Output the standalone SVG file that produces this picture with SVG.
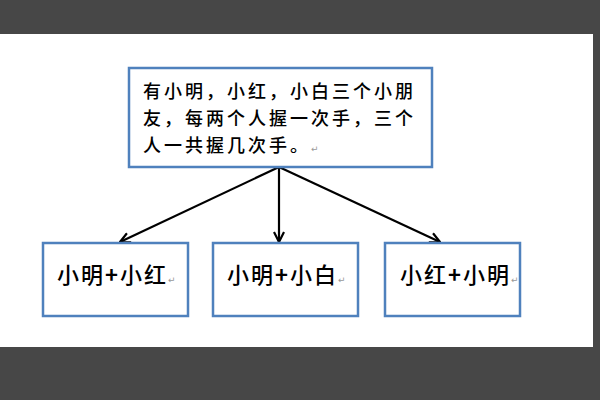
<svg xmlns="http://www.w3.org/2000/svg" width="600" height="400" viewBox="0 0 600 400">
<style>
.box{fill:#fff;stroke:#4f81bd;stroke-width:2.5}
.t{font-family:"Noto Sans CJK SC",sans-serif;fill:#000;font-weight:500}
.top{font-size:18px;letter-spacing:3px}
.bot{font-size:22px;letter-spacing:2px}
.pm{font-family:"DejaVu Sans",sans-serif;font-size:9px;fill:#999;font-weight:normal;letter-spacing:0}
.edge{stroke:#000;stroke-width:2.2;fill:none}
</style>
<defs>
<marker id="arr" viewBox="0 0 12 12" refX="11" refY="6" markerWidth="12" markerHeight="12" markerUnits="userSpaceOnUse" orient="auto">
<path d="M1,1 L11,6 L1,11" fill="none" stroke="#000" stroke-width="2.2"/>
</marker>
</defs>
<rect x="0" y="0" width="600" height="400" fill="#474747"/>
<rect x="0" y="34" width="593" height="313" fill="#fff"/>
<g id="connectors">
<line class="edge" x1="279" y1="167" x2="120" y2="242" marker-end="url(#arr)"/>
<line class="edge" x1="279" y1="167" x2="279" y2="242" marker-end="url(#arr)"/>
<line class="edge" x1="279" y1="167" x2="440" y2="242" marker-end="url(#arr)"/>
</g>
<g id="n0">
<rect class="box" x="129" y="68" width="303" height="99"/>
<text class="t top" x="143" y="98">有小明，小红，小白三个小朋</text>
<text class="t top" x="143" y="125">友，每两个人握一次手，三个</text>
<text class="t top" x="143" y="152">人一共握几次手。<tspan class="pm">↵</tspan></text>
</g>
<g id="n1">
<rect class="box" x="43" y="243" width="145" height="73"/>
<text class="t bot" x="57" y="283">小明<tspan font-weight="bold">+</tspan>小红<tspan class="pm">↵</tspan></text>
</g>
<g id="n2">
<rect class="box" x="213" y="243" width="145" height="73"/>
<text class="t bot" x="227" y="283">小明<tspan font-weight="bold">+</tspan>小白<tspan class="pm">↵</tspan></text>
</g>
<g id="n3">
<rect class="box" x="385" y="243" width="135" height="73"/>
<text class="t bot" x="400" y="283">小红<tspan font-weight="bold">+</tspan>小明<tspan class="pm">↵</tspan></text>
</g>
</svg>
